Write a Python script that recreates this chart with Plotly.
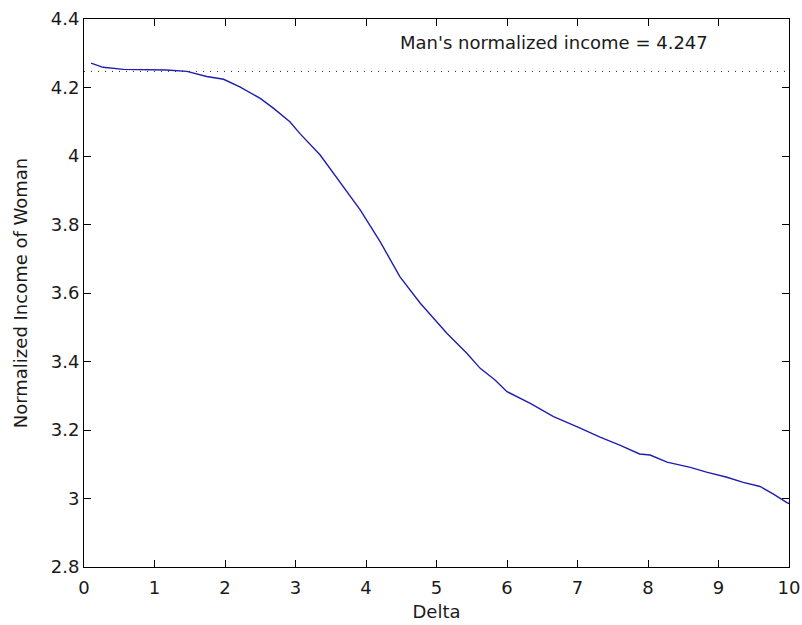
import plotly.graph_objects as go

# Woman's normalized income as a function of Delta
delta = [0.1, 0.27, 0.56, 1.17, 1.46, 1.74, 1.98, 2.21, 2.50, 2.69, 2.92, 3.06,
         3.35, 3.63, 3.92, 4.20, 4.48, 4.77, 5.15, 5.43, 5.62, 5.83, 6.00, 6.33,
         6.66, 6.99, 7.32, 7.60, 7.88, 8.03, 8.27, 8.60, 8.83, 9.12, 9.35, 9.59,
         9.78, 9.97, 10.0]
woman_income = [4.271, 4.259, 4.253, 4.251, 4.247, 4.232, 4.224, 4.202, 4.168,
                4.139, 4.100, 4.066, 4.003, 3.925, 3.842, 3.750, 3.648, 3.570,
                3.482, 3.424, 3.380, 3.346, 3.312, 3.278, 3.239, 3.210, 3.179,
                3.156, 3.130, 3.127, 3.106, 3.091, 3.077, 3.062, 3.047, 3.035,
                3.013, 2.988, 2.985]

# Reference level: man's normalized income
man_income = 4.247

x_ticks = [0, 1, 2, 3, 4, 5, 6, 7, 8, 9, 10]
y_ticks = [2.8, 3.0, 3.2, 3.4, 3.6, 3.8, 4.0, 4.2, 4.4]
y_tick_text = ["2.8", "3", "3.2", "3.4", "3.6", "3.8", "4", "4.2", "4.4"]

FONT = "DejaVu Sans, Arial, sans-serif"
TEXT_COLOR = "#1a1a1a"

fig = go.Figure()

fig.add_trace(go.Scatter(
    x=[0, 10], y=[man_income, man_income], mode="lines",
    line=dict(color="#222222", width=1, dash="1px,6px"),
    hoverinfo="skip", showlegend=False,
))

fig.add_trace(go.Scatter(
    x=delta, y=woman_income, mode="lines",
    line=dict(color="rgb(30,30,175)", width=1.4),
    showlegend=False,
))

fig.add_annotation(
    x=4.45, y=4.33, xref="x", yref="y",
    text=f"Man's normalized income = {man_income}",
    showarrow=False, xanchor="left", yanchor="middle",
    font=dict(family=FONT, size=18, color=TEXT_COLOR),
)

axis_common = dict(
    showgrid=False, zeroline=False, automargin=False,
    showline=True, linecolor="black", linewidth=1, mirror="ticks",
    ticks="inside", ticklen=7, tickcolor="black", tickwidth=1,
    tickfont=dict(family=FONT, size=18, color=TEXT_COLOR),
)

fig.update_xaxes(
    range=[0, 10], tickvals=x_ticks, ticklabelstandoff=4,
    title=dict(text="Delta", font=dict(family=FONT, size=18, color=TEXT_COLOR),
               standoff=8),
    **axis_common,
)
fig.update_yaxes(
    range=[2.8, 4.4], tickvals=y_ticks, ticktext=y_tick_text,
    title=dict(text="Normalized Income of Woman",
               font=dict(family=FONT, size=18, color=TEXT_COLOR), standoff=18),
    **axis_common,
)

fig.update_layout(
    width=802, height=625,
    margin=dict(l=84, r=13, t=19, b=58),
    paper_bgcolor="white", plot_bgcolor="white",
)

fig.write_html("out.html")
